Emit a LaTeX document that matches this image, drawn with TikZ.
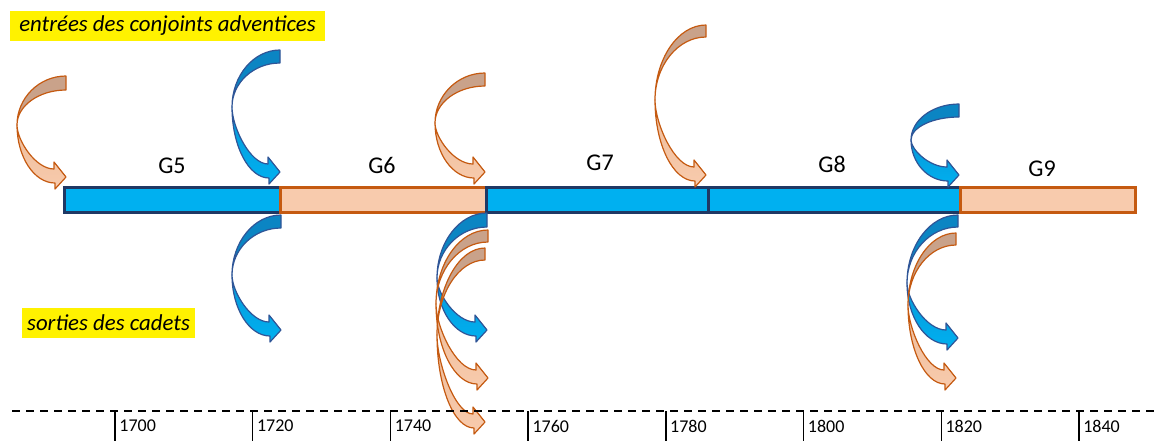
\documentclass[tikz,border=0pt]{standalone}
\usepackage{fontspec}
\setmainfont{Carlito}

\definecolor{bleu}{HTML}{00B0F0}
\definecolor{bleutrait}{HTML}{1F3864}
\definecolor{bleubord}{HTML}{2F5597}
\definecolor{bleudos}{HTML}{0B85C3}
\definecolor{bleuhaut}{HTML}{0699D9}
\definecolor{peche}{HTML}{F8CBAD}
\definecolor{rouille}{HTML}{C55A11}
\definecolor{orangedos}{HTML}{C9A28A}
\definecolor{orangehaut}{HTML}{EDBC9A}

\tikzset{
  barrebleue/.style={fill=bleu, draw=bleutrait, line width=1.5pt},
  barrepeche/.style={fill=peche, draw=rouille, line width=1.5pt},
  bleu dos/.style={fill=bleudos, draw=bleubord, line width=0.6pt, line join=round},
  bleu face/.style={top color=bleuhaut, bottom color=bleu, draw=bleubord, line width=0.6pt, line join=round},
  orange dos/.style={fill=orangedos, draw=rouille, line width=0.6pt, line join=round},
  orange face/.style={top color=orangehaut, bottom color=peche, draw=rouille, line width=0.6pt, line join=round},
  gen/.style={font=\fontsize{12}{14}\selectfont},
  titre/.style={fill=yellow, font=\fontsize{11.4}{13}\selectfont\itshape, inner sep=0pt, minimum height=15pt},
  annee/.style={font=\fontsize{9}{11}\selectfont, anchor=west, inner sep=1pt}
}

% #1 right x, #2 top y, #3 thickness, #4 left x, #5 y of left, #6 tip y, #7 colour
\newcommand{\fleche}[7]{%
  \path[#7 dos] (#1,#2)
    .. controls ({#1-0.55*(#1-#4)},#2) and (#4,{#5-0.55*(#5-#2)}) .. (#4,#5)
    .. controls (#4,{#5-0.55*(#5-#2-#3)}) and ({#1-0.55*(#1-#4)},{#2+#3}) .. (#1,{#2+#3}) -- cycle;
  \path[#7 face] (#4,#5)
    .. controls (#4,{#5+0.55*(#6+6-#5)}) and ({#1-11-0.55*(#1-11-#4)},{#6+6}) .. ({#1-11},{#6+6})
    -- ({#1-11},{#6+12}) -- (#1,#6) -- ({#1-12},{#6-15}) -- ({#1-12},{#6-8})
    .. controls ({#1-12-0.5*(#1-12-#4)},{#6-8}) and (#4,{#5+0.35*(#6-8-#5)}) .. (#4,#5) -- cycle;
}

\begin{document}
\begin{tikzpicture}[x=0.5pt,y=-0.5pt]
  \useasboundingbox (0,0) rectangle (1155,441);

  % generations
  \draw[barrebleue] (64,187) rectangle (280,212);
  \draw[barrepeche] (280,187) rectangle (486,212);
  \draw[barrebleue] (486,187) rectangle (708,212);
  \draw[barrebleue] (708,187) rectangle (960,212);
  \draw[barrepeche] (960,187) rectangle (1135,212);
  \node[gen] (g5) at (172,166) {G5};
  \node[gen] (g6) at (382,165) {G6};
  \node[gen] (g7) at (600,163) {G7};
  \node[gen] (g8) at (832,164) {G8};
  \node[gen] (g9) at (1042,169) {G9};

  % entrees
  \fleche{66}{76}{14}{17}{125}{177}{orange}
  \fleche{280}{50}{13}{232}{107}{172}{bleu}
  \fleche{485}{73}{13}{435}{123}{172}{orange}
  \fleche{706}{25}{12}{655}{100}{175}{orange}
  \fleche{959}{104}{13}{911}{140}{175}{bleu}

  % sorties
  \fleche{281}{215}{13}{232}{275}{330}{bleu}
  \fleche{487}{213}{14}{437}{278}{330}{bleu}
  \fleche{488}{230}{12}{436}{304}{378}{orange}
  \fleche{485}{248}{12}{437}{335}{422}{orange}
  \fleche{958}{215}{12}{907}{283}{338}{bleu}
  \fleche{956}{233}{12}{908}{305}{378}{orange}

  \node[titre, minimum width=157.5pt] (entrees) at (167.5,26) {entrées des conjoints adventices};
  \node[titre, minimum width=86.5pt] (sorties) at (108.5,323) {sorties des cadets};

  % echelle
  \draw[line width=0.75pt, dash pattern=on 4pt off 3pt] (12,411) -- (1155,411);
  \foreach \an [count=\i from 0] in {1700,1720,1740,1760,1780,1800,1820,1840} {
    \draw[line width=0.7pt] ({115+137.7*\i},411) -- ({115+137.7*\i},441);
    \node[annee] (an\an) at ({117+137.7*\i},426) {\an};
  }
\end{tikzpicture}
\end{document}
